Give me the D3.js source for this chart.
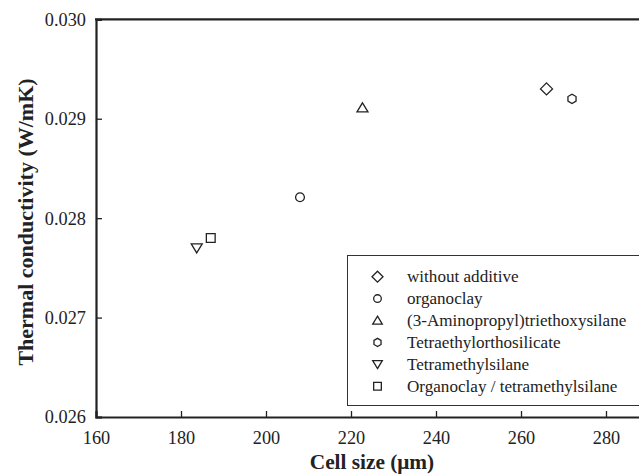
<!DOCTYPE html>
<html><head><meta charset="utf-8">
<script src="https://cdn.jsdelivr.net/npm/d3@7/dist/d3.min.js"></script>
</head><body style="margin:0"><svg id="c" width="639" height="474"></svg>
<script>
const series = ["without additive","organoclay","(3-Aminopropyl)triethoxysilane","Tetraethylorthosilicate","Tetramethylsilane","Organoclay / tetramethylsilane"];
const cellSize = [266, 208, 222.7, 272, 183.7, 187];
const conductivity = [0.0293, 0.02821, 0.02911, 0.0292, 0.0277, 0.0278];
const shapes = ["diamond","circle","triangle","hexagon","triangleDown","square"];
const xTicks = [160,180,200,220,240,260,280];
const yTicks = [0.026,0.027,0.028,0.029,0.030];

const svg = d3.select("#c").style("display","block").style("font-family","Liberation Serif");
const col = "#222";
const x = d3.scaleLinear().domain([160,290]).range([96,648.5]);
const y = d3.scaleLinear().domain([0.026,0.030]).range([417,19.3]);

function shapePath(s, r){
  switch(s){
    case "diamond": return `M0,${-r}L${r},0L0,${r}L${-r},0Z`;
    case "circle": { const c=r*0.8; return `M${c},0A${c},${c} 0 1,1 ${-c},0A${c},${c} 0 1,1 ${c},0Z`; }
    case "triangle": return `M0,${-r*0.9}L${r},${r*0.75}L${-r},${r*0.75}Z`;
    case "triangleDown": return `M0,${r*0.9}L${r},${-r*0.75}L${-r},${-r*0.75}Z`;
    case "square": return `M${-r*0.8},${-r*0.8}H${r*0.8}V${r*0.8}H${-r*0.8}Z`;
    case "hexagon": {
      let p=[]; for(let i=0;i<6;i++){const a=Math.PI/6+i*Math.PI/3; p.push([r*0.85*Math.cos(a), r*0.85*Math.sin(a)]);}
      return "M"+p.map(d=>d.join(",")).join("L")+"Z";
    }
  }
}

const xAxis = d3.axisBottom(x).tickValues(xTicks).tickSize(-6).tickPadding(10).tickFormat(d3.format("d"));
const gx = svg.append("g").attr("transform","translate(0,417)").call(xAxis);
const yAxis = d3.axisLeft(y).tickValues(yTicks).tickSize(-6).tickPadding(10).tickFormat(d3.format(".3f"));
const gy = svg.append("g").attr("transform","translate(96,0)").call(yAxis);
[gx,gy].forEach(g=>{
  g.attr("font-family",null).attr("font-size",null);
  g.select(".domain").attr("stroke",col).attr("stroke-width",2.2);
  g.selectAll(".tick line").attr("stroke",col).attr("stroke-width",1.3);
  g.selectAll(".tick text").attr("fill",col).style("font-family","Liberation Serif").attr("font-size",18.3);
});
gx.selectAll(".tick text").attr("dy","0.71em").attr("y",14);
gy.selectAll(".tick text").attr("x",-10);
svg.append("line").attr("x1",95).attr("x2",x(290)).attr("y1",y(0.030)).attr("y2",y(0.030)).attr("stroke",col).attr("stroke-width",2.2);

svg.append("g").selectAll("path").data(series).join("path")
  .attr("transform",(d,i)=>`translate(${x(cellSize[i])},${y(conductivity[i])})`)
  .attr("d",(d,i)=>shapePath(shapes[i], shapes[i]==="diamond"?6:5.5))
  .attr("fill","none").attr("stroke",col).attr("stroke-width",1.3);

const lg = svg.append("g");
lg.append("rect").attr("x",347.5).attr("y",255.5).attr("width",300).attr("height",150).attr("fill","#fff").attr("stroke","#333").attr("stroke-width",1);
series.forEach((s,i)=>{
  const cy = 276.7 + i*21.9;
  lg.append("path").attr("transform",`translate(377.5,${cy})`).attr("d",shapePath(shapes[i],shapes[i]==="diamond"?5.5:4.8))
    .attr("fill","none").attr("stroke",col).attr("stroke-width",1.3);
  lg.append("text").attr("x",407).attr("y",cy).attr("dy","0.33em").attr("font-size",17.1).style("font-family","Liberation Serif").attr("fill",col).text(s);
});

svg.append("text").attr("x",372).attr("y",469).attr("text-anchor","middle").attr("font-weight","bold").attr("font-size",21.3).style("font-family","Liberation Serif").attr("fill",col).text("Cell size (μm)");
svg.append("text").attr("transform","translate(33,222) rotate(-90)").attr("text-anchor","middle").attr("font-weight","bold").attr("font-size",22).style("font-family","Liberation Serif").attr("fill",col).text("Thermal conductivity (W/mK)");
</script></body></html>
